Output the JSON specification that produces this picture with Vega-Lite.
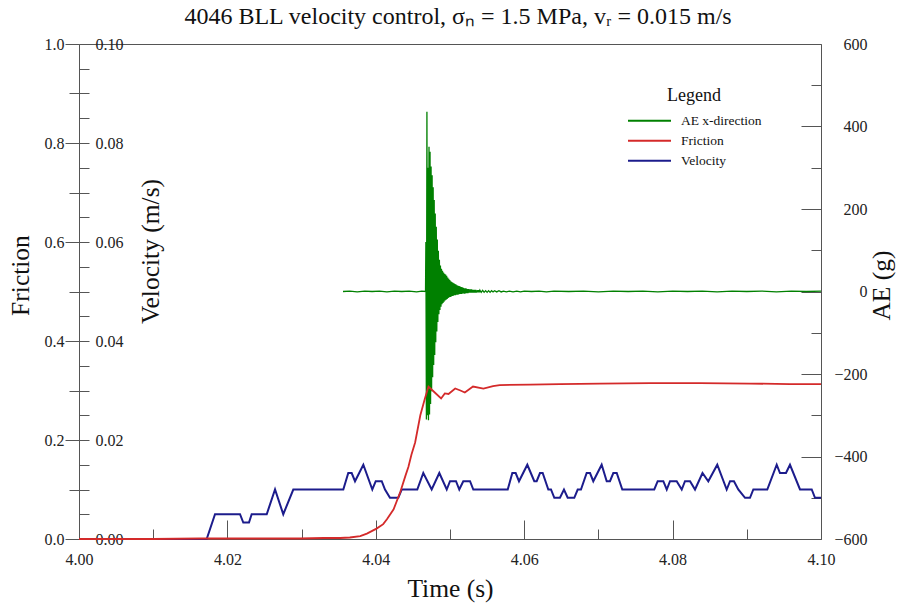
{
"$schema": "https://vega.github.io/schema/vega-lite/v6.json",
"width": 742, "height": 495,
"autosize": {"type": "none"},
"padding": {"left": 79, "top": 44, "right": 86, "bottom": 71},
"background": "white",
"title": {"text": "4046 BLL velocity control, σₙ = 1.5 MPa, vᵣ = 0.015 m/s", "font": "Liberation Serif", "fontSize": 24, "fontWeight": "normal", "color": "#111", "anchor": "middle", "offset": 7, "dx": 8},
"config": {
  "font": "Liberation Serif",
  "view": {"stroke": "#555", "strokeWidth": 1},
  "axis": {"grid": false, "domainColor": "#555", "tickColor": "#555", "labelFont": "Liberation Serif", "labelFontSize": 16, "labelColor": "#222", "labelFlush": false, "labelOverlap": false, "titleFont": "Liberation Serif", "titleFontSize": 25.5, "titleFontWeight": "normal", "titleColor": "#111"},
  "axisLeft": {"labelFont": "Liberation Serif", "titleFont": "Liberation Serif"},
  "axisRight": {"labelFont": "Liberation Serif", "titleFont": "Liberation Serif"},
  "axisBottom": {"labelFont": "Liberation Serif", "titleFont": "Liberation Serif"}
},
"datasets": {
"vel": [
{"t":4.0,"v":0},{"t":4.01721,"v":0},{"t":4.01833,"v":0.005},{"t":4.0217,"v":0.005},{"t":4.02214,"v":0.00333},{"t":4.02291,"v":0.00333},{"t":4.02327,"v":0.005},{"t":4.0253,"v":0.005},{"t":4.02642,"v":0.01},{"t":4.02753,"v":0.005},{"t":4.02888,"v":0.01},{"t":4.03562,"v":0.01},{"t":4.03629,"v":0.01333},{"t":4.03675,"v":0.01333},{"t":4.0372,"v":0.01167},{"t":4.03832,"v":0.015},{"t":4.03953,"v":0.01},{"t":4.03999,"v":0.01167},{"t":4.0408,"v":0.01167},{"t":4.04124,"v":0.01},{"t":4.04191,"v":0.00833},{"t":4.04303,"v":0.00833},{"t":4.04349,"v":0.01},{"t":4.04559,"v":0.01},{"t":4.0464,"v":0.01333},{"t":4.04753,"v":0.01},{"t":4.04856,"v":0.01333},{"t":4.04956,"v":0.01},{"t":4.05,"v":0.01167},{"t":4.05081,"v":0.01167},{"t":4.05125,"v":0.01},{"t":4.05179,"v":0.01167},{"t":4.0527,"v":0.01167},{"t":4.05314,"v":0.01},{"t":4.05778,"v":0.01},{"t":4.0584,"v":0.01333},{"t":4.05885,"v":0.01333},{"t":4.0593,"v":0.01167},{"t":4.06042,"v":0.015},{"t":4.06136,"v":0.01167},{"t":4.06168,"v":0.01167},{"t":4.06213,"v":0.01333},{"t":4.06249,"v":0.01333},{"t":4.06325,"v":0.01},{"t":4.06361,"v":0.01},{"t":4.06406,"v":0.00833},{"t":4.06482,"v":0.00833},{"t":4.06536,"v":0.01},{"t":4.06586,"v":0.00833},{"t":4.06675,"v":0.00833},{"t":4.06721,"v":0.01},{"t":4.06765,"v":0.01},{"t":4.06842,"v":0.01333},{"t":4.06887,"v":0.01333},{"t":4.06931,"v":0.01167},{"t":4.07044,"v":0.015},{"t":4.07112,"v":0.01167},{"t":4.07156,"v":0.01167},{"t":4.07201,"v":0.01333},{"t":4.07247,"v":0.01333},{"t":4.07322,"v":0.01},{"t":4.07753,"v":0.01},{"t":4.07799,"v":0.01167},{"t":4.07875,"v":0.01167},{"t":4.07921,"v":0.01},{"t":4.07965,"v":0.01167},{"t":4.08055,"v":0.01167},{"t":4.08123,"v":0.01},{"t":4.08167,"v":0.01167},{"t":4.08235,"v":0.01167},{"t":4.08302,"v":0.01},{"t":4.08403,"v":0.01333},{"t":4.08481,"v":0.01167},{"t":4.08602,"v":0.015},{"t":4.08729,"v":0.01},{"t":4.08774,"v":0.01167},{"t":4.08827,"v":0.01167},{"t":4.08885,"v":0.01},{"t":4.08976,"v":0.00833},{"t":4.09043,"v":0.00833},{"t":4.09088,"v":0.01},{"t":4.09276,"v":0.01},{"t":4.09403,"v":0.015},{"t":4.09447,"v":0.01333},{"t":4.09528,"v":0.01333},{"t":4.09582,"v":0.015},{"t":4.09717,"v":0.01},{"t":4.09875,"v":0.01},{"t":4.09919,"v":0.00833},{"t":4.1,"v":0.00833}
],
"fric": [
{"t":4.0,"f":0.0},{"t":4.01,"f":0.0},{"t":4.0163,"f":0.001},{"t":4.025,"f":0.001},{"t":4.0298,"f":0.001},{"t":4.033,"f":0.002},{"t":4.0352,"f":0.002},{"t":4.0365,"f":0.003},{"t":4.0379,"f":0.006},{"t":4.0388,"f":0.011},{"t":4.0401,"f":0.021},{"t":4.041,"f":0.03},{"t":4.0415,"f":0.04},{"t":4.0424,"f":0.06},{"t":4.0433,"f":0.095},{"t":4.044,"f":0.128},{"t":4.0444,"f":0.146},{"t":4.0448,"f":0.17},{"t":4.0453,"f":0.195},{"t":4.046,"f":0.25},{"t":4.0466,"f":0.283},{"t":4.0471,"f":0.308},{"t":4.0478,"f":0.298},{"t":4.0488,"f":0.284},{"t":4.0493,"f":0.294},{"t":4.0498,"f":0.293},{"t":4.0507,"f":0.304},{"t":4.0514,"f":0.3},{"t":4.052,"f":0.296},{"t":4.0531,"f":0.308},{"t":4.0545,"f":0.304},{"t":4.0558,"f":0.309},{"t":4.0567,"f":0.311},{"t":4.0608,"f":0.312},{"t":4.0648,"f":0.313},{"t":4.0702,"f":0.314},{"t":4.077,"f":0.315},{"t":4.0837,"f":0.315},{"t":4.0904,"f":0.314},{"t":4.0958,"f":0.313},{"t":4.1,"f":0.313}
],
"ae": [
{"t":4.03558,"a":0},{"t":4.0365,"a":1},{"t":4.0375,"a":-1},{"t":4.0385,"a":1},{"t":4.0395,"a":0},{"t":4.0405,"a":1},{"t":4.0415,"a":-1},{"t":4.0425,"a":1},{"t":4.0435,"a":0},{"t":4.0445,"a":1},{"t":4.0455,"a":-1},{"t":4.0462,"a":1},{"t":4.0467,"a":0},
{"t":4.04675,"a":120},{"t":4.04682,"a":-310},{"t":4.04689,"a":436},{"t":4.04696,"a":-300},{"t":4.04703,"a":300},{"t":4.0471,"a":-312},{"t":4.04717,"a":351},{"t":4.04724,"a":-298},{"t":4.04731,"a":339},{"t":4.04738,"a":-273},
{"t":4.04745,"a":303},{"t":4.04752,"a":-242},{"t":4.04759,"a":282},{"t":4.04766,"a":-208},{"t":4.04773,"a":253},{"t":4.0478,"a":-178},{"t":4.04787,"a":222},{"t":4.04794,"a":-154},{"t":4.04801,"a":189},{"t":4.04808,"a":-123},
{"t":4.04815,"a":157},{"t":4.04822,"a":-97},{"t":4.04829,"a":126},{"t":4.04836,"a":-74},{"t":4.04843,"a":99},{"t":4.0485,"a":-55},{"t":4.04857,"a":77},{"t":4.04864,"a":-45},{"t":4.04871,"a":63},{"t":4.04878,"a":-37},
{"t":4.04885,"a":55},{"t":4.04892,"a":-31},{"t":4.04899,"a":50},{"t":4.04906,"a":-28},{"t":4.04913,"a":46},{"t":4.0492,"a":-25},{"t":4.04927,"a":43},{"t":4.04934,"a":-22},{"t":4.04941,"a":41},{"t":4.04948,"a":-20},
{"t":4.04955,"a":38},{"t":4.04962,"a":-18},{"t":4.04969,"a":34},{"t":4.04976,"a":-16},{"t":4.04983,"a":31},{"t":4.0499,"a":-14},{"t":4.04997,"a":28},{"t":4.05004,"a":-13},{"t":4.05011,"a":25},{"t":4.05018,"a":-12},
{"t":4.05025,"a":23},{"t":4.05032,"a":-11},{"t":4.05039,"a":21},{"t":4.05046,"a":-10},{"t":4.05053,"a":20},{"t":4.0506,"a":-9},{"t":4.05067,"a":18},{"t":4.05074,"a":-9},{"t":4.05081,"a":17},{"t":4.05088,"a":-8},
{"t":4.05095,"a":15},{"t":4.05102,"a":-8},{"t":4.05109,"a":14},{"t":4.05116,"a":-7},{"t":4.05123,"a":13},{"t":4.0513,"a":-6},{"t":4.05137,"a":12},{"t":4.05144,"a":-6},{"t":4.05151,"a":11},{"t":4.05158,"a":-6},
{"t":4.05165,"a":10},{"t":4.05172,"a":-5},{"t":4.05179,"a":9},{"t":4.05186,"a":-5},{"t":4.05193,"a":8},{"t":4.052,"a":-5},{"t":4.05207,"a":8},{"t":4.05214,"a":-4},{"t":4.05221,"a":7},{"t":4.05228,"a":-4},
{"t":4.05235,"a":6},{"t":4.05242,"a":-4},{"t":4.05249,"a":6},{"t":4.05256,"a":-3},{"t":4.05263,"a":5},{"t":4.0527,"a":-3},{"t":4.05277,"a":5},{"t":4.05284,"a":-3},{"t":4.05291,"a":5},{"t":4.05298,"a":-3},
{"t":4.05305,"a":4},{"t":4.05312,"a":-3},{"t":4.05319,"a":4},{"t":4.05326,"a":-3},{"t":4.05333,"a":4},{"t":4.0534,"a":-3},{"t":4.05347,"a":4},{"t":4.05354,"a":-3},{"t":4.05361,"a":3},{"t":4.05368,"a":-2},
{"t":4.05375,"a":3},{"t":4.05382,"a":-2},{"t":4.05389,"a":3},{"t":4.05396,"a":-2},{"t":4.05403,"a":3},
{"t":4.0542,"a":-2},{"t":4.0544,"a":3},{"t":4.0546,"a":-2},{"t":4.0548,"a":2},{"t":4.055,"a":-2},{"t":4.0552,"a":2},{"t":4.0554,"a":-2},{"t":4.0556,"a":2},{"t":4.0558,"a":-1},{"t":4.056,"a":2},{"t":4.0563,"a":-1},{"t":4.0566,"a":2},{"t":4.0569,"a":-1},{"t":4.0572,"a":1},{"t":4.0576,"a":-1},{"t":4.058,"a":1},{"t":4.0585,"a":-1},{"t":4.059,"a":1},{"t":4.0595,"a":-1},{"t":4.06,"a":1},
{"t":4.061,"a":0},{"t":4.062,"a":1},{"t":4.063,"a":-1},{"t":4.064,"a":1},{"t":4.066,"a":0},{"t":4.068,"a":1},{"t":4.07,"a":-1},{"t":4.072,"a":1},{"t":4.074,"a":0},{"t":4.076,"a":1},{"t":4.078,"a":-1},{"t":4.08,"a":1},{"t":4.082,"a":0},{"t":4.084,"a":1},{"t":4.086,"a":-1},{"t":4.088,"a":1},{"t":4.09,"a":0},{"t":4.092,"a":1},{"t":4.094,"a":-1},{"t":4.096,"a":1},{"t":4.098,"a":0},{"t":4.1,"a":1}
]
},
"resolve": {"scale": {"x": "independent", "y": "independent"}, "axis": {"x": "independent", "y": "independent"}},
"layer": [
{
 "data": {"name": "vel"},
 "mark": {"type": "line", "strokeWidth": 2},
 "encoding": {
  "x": {"field": "t", "type": "quantitative", "scale": {"domain": [4.0, 4.1], "nice": false, "zero": false},
        "axis": {"orient": "bottom", "values": [4.0, 4.02, 4.04, 4.06, 4.08, 4.1], "format": ".2f", "ticks": false, "tickSize": 0, "labelPadding": 12, "labelFont": "Liberation Serif", "title": "Time (s)", "titlePadding": 9}},
  "y": {"field": "v", "type": "quantitative", "scale": {"domain": [0, 0.1], "nice": false, "zero": false},
        "axis": {"orient": "left", "offset": -44, "domain": false, "ticks": false, "tickSize": 0, "labelPadding": 0, "labelFont": "Liberation Serif", "values": [0, 0.02, 0.04, 0.06, 0.08, 0.1], "format": ".2f", "title": "Velocity (m/s)", "titleX": 27, "titleY": 207, "titleAngle": 270, "titleBaseline": "middle"}},
  "color": {"datum": "Velocity", "type": "nominal",
        "scale": {"domain": ["AE x-direction", "Friction", "Velocity"], "range": ["#008000", "#d42a2a", "#1c1c8c"]},
        "legend": {"orient": "none", "legendX": 548, "legendY": 43, "title": "Legend", "titleFont": "Liberation Serif", "titleFontSize": 18, "titleFontWeight": "normal", "titleColor": "#111", "titleAnchor": "middle", "titlePadding": 6, "labelFont": "Liberation Serif", "labelFontSize": 13.5, "labelColor": "#111", "labelOffset": 9, "symbolType": "stroke", "symbolSize": 1849, "symbolStrokeWidth": 2, "clipHeight": 19.5, "rowPadding": 0, "padding": 0}}
 }
},
{
 "data": {"name": "ae"},
 "mark": {"type": "line", "strokeWidth": 1.3},
 "encoding": {
  "x": {"field": "t", "type": "quantitative", "scale": {"domain": [4.0, 4.1], "nice": false, "zero": false},
        "axis": {"orient": "bottom", "offset": -19, "tickSize": 19, "labels": false, "domain": false, "values": [4.02, 4.04, 4.06, 4.08], "title": null}},
  "y": {"field": "a", "type": "quantitative", "scale": {"domain": [-600, 600], "nice": false, "zero": false},
        "axis": {"orient": "right", "values": [-600, -400, -200, 0, 200, 400, 600], "ticks": false, "tickSize": 0, "labelPadding": 46, "labelAlign": "right", "labelFont": "Liberation Serif", "domain": true, "title": "AE (g)", "titleX": 60, "titleY": 241, "titleAngle": 270, "titleBaseline": "middle"}},
  "color": {"datum": "AE x-direction", "type": "nominal"}
 }
},
{
 "data": {"name": "fric"},
 "mark": {"type": "line", "strokeWidth": 1.8},
 "encoding": {
  "x": {"field": "t", "type": "quantitative", "scale": {"domain": [4.0, 4.1], "nice": false, "zero": false},
        "axis": {"orient": "bottom", "offset": -10, "tickSize": 10, "labels": false, "domain": false, "values": [4.01, 4.03, 4.05, 4.07, 4.09], "title": null}},
  "y": {"field": "f", "type": "quantitative", "scale": {"domain": [0, 1], "nice": false, "zero": false},
        "axis": {"orient": "left", "values": [0, 0.2, 0.4, 0.6, 0.8, 1], "format": ".1f", "tickSize": 14, "labelPadding": 1, "labelFont": "Liberation Serif", "title": "Friction", "titleX": -59, "titleY": 231, "titleAngle": 270, "titleBaseline": "middle"}},
  "color": {"datum": "Friction", "type": "nominal"}
 }
},
{
 "data": {"name": "fric"},
 "mark": {"type": "point", "opacity": 0},
 "encoding": {
  "x": {"field": "t", "type": "quantitative", "scale": {"domain": [4.0, 4.1], "nice": false, "zero": false}, "axis": null},
  "y": {"field": "f", "type": "quantitative", "scale": {"domain": [0, 1], "nice": false, "zero": false},
        "axis": {"orient": "left", "values": [0.1, 0.3, 0.5, 0.7, 0.9], "tickSize": 10, "labels": false, "domain": false, "title": null}}
 }
},
{
 "data": {"name": "fric"},
 "mark": {"type": "point", "opacity": 0},
 "encoding": {
  "x": {"field": "t", "type": "quantitative", "scale": {"domain": [4.0, 4.1], "nice": false, "zero": false}, "axis": null},
  "y": {"field": "f", "type": "quantitative", "scale": {"domain": [0, 1], "nice": false, "zero": false},
        "axis": {"orient": "left", "offset": -10, "values": [0.05, 0.1, 0.15, 0.2, 0.25, 0.3, 0.35, 0.4, 0.45, 0.5, 0.55, 0.6, 0.65, 0.7, 0.75, 0.8, 0.85, 0.9, 0.95], "tickSize": 10, "labels": false, "domain": false, "title": null}}
 }
},
{
 "data": {"name": "ae"},
 "mark": {"type": "point", "opacity": 0},
 "encoding": {
  "x": {"field": "t", "type": "quantitative", "scale": {"domain": [4.0, 4.1], "nice": false, "zero": false}, "axis": null},
  "y": {"field": "a", "type": "quantitative", "scale": {"domain": [-600, 600], "nice": false, "zero": false},
        "axis": {"orient": "right", "offset": -20, "values": [-400, -200, 0, 200, 400], "tickSize": 20, "labels": false, "domain": false, "title": null}}
 }
},
{
 "data": {"name": "ae"},
 "mark": {"type": "point", "opacity": 0},
 "encoding": {
  "x": {"field": "t", "type": "quantitative", "scale": {"domain": [4.0, 4.1], "nice": false, "zero": false}, "axis": null},
  "y": {"field": "a", "type": "quantitative", "scale": {"domain": [-600, 600], "nice": false, "zero": false},
        "axis": {"orient": "right", "offset": -10, "values": [-500, -300, -100, 100, 300, 500], "tickSize": 10, "labels": false, "domain": false, "title": null}}
 }
}
]
}
